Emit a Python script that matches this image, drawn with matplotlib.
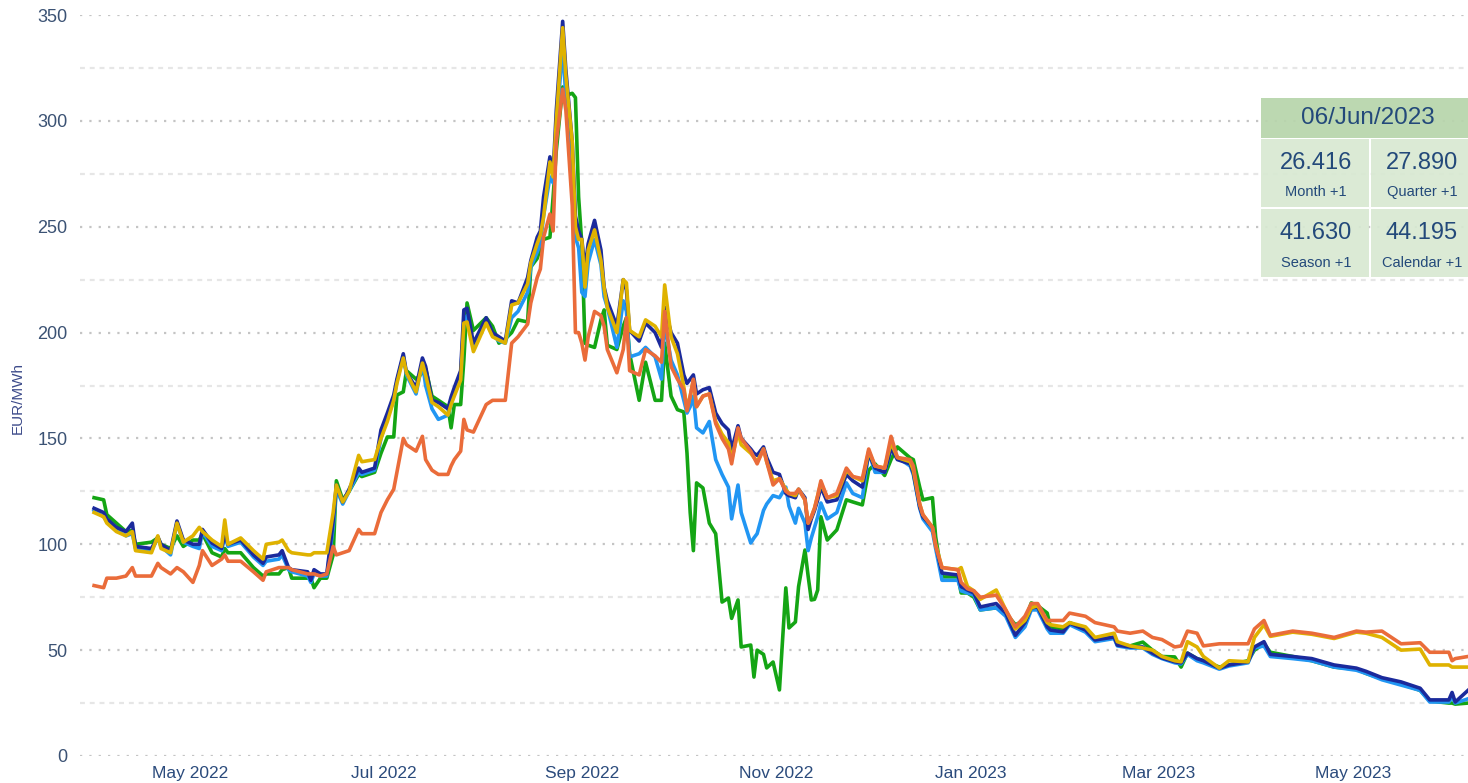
import numpy as np
import matplotlib
matplotlib.use("Agg")
import matplotlib.pyplot as plt
import matplotlib.dates as mdates
from matplotlib.patches import Rectangle

plt.rcParams['font.family'] = ['Liberation Sans', 'DejaVu Sans']

start_date = np.datetime64('2022-04-01')
days = [0,3,4,7,10,12,13,18,20,21,
        24,26,28,31,33,34,37,40,41,42,
        46,50,53,54,58,59,61,62,67,68,
        69,71,73,75,76,78,80,83,84,88,
        90,92,94,95,97,98,101,103,104,106,
        108,111,112,113,115,116,117,119,123,125,
        127,129,131,133,136,137,139,140,141,143,
        144,145,147,148,150,151,152,153,154,155,
        157,159,160,161,164,166,167,168,171,173,
        176,178,179,181,183,185,186,187,188,189,
        191,193,195,197,199,200,202,203,206,207,
        208,210,211,213,215,217,218,220,221,223,
        224,225,226,227,228,230,233,236,238,241,
        243,245,248,250,252,256,257,259,260,263,
        264,266,271,272,274,276,278,283,286,289,
        292,294,296,299,300,304,306,311,314,320,
        321,325,329,332,335,339,341,343,346,348,
        353,356,362,364,367,369,376,382,389,396,
        399,404,410,416,419,425,426,427,431]

navy = [117,115,112,108,106,110,99,98,103.5,100,
        97,111,102,100,100,107,100.6,98,105,100,
        102,95,91,94,95,97,89,88,87,83,
        88,86,86,111,128,120,126,136,134,136,
        154,162,170.5,178,190,181,174,188,184,168,
        167,164,169.6,174,182,210.7,211.5,195,207,200,
        198,196,215,214,226,234,245,248,264,283,
        275,305,347,324,290,255,248,244,230,242,
        253,239,221.5,215,203,225,220,201,196,204.5,
        200,193,212,200,195,180,176,178,180,171,
        173,174,162,157,154,144.6,156,150,145,143,
        142,146,141,134,133,124,123,122,126,122,
        107,112,116,121,127,120,121,133,130,127,
        143,136,134,145.5,140,138,133.7,117.6,113,108,
        100,86.4,85.5,80,78.4,77,70.4,72,67.5,57,
        63,70,70.4,61,59.5,58.6,62.8,59.5,54.8,56.2,
        52.4,51.5,51.5,48.6,46.3,44.5,44,48.6,46,45,
        41.5,43,44.5,51.5,54,48,47,46,43,41.5,
        40,37,35,32,26.5,26.5,30,25.5,31]

light_blue = [116,113,111,107,104,105,98,97,103,99,
              95,110,101,99,98,106,99,97,104,99,
              101,94,90,92,93,95,88,87,85,82,
              86,85,85,108,126,119,125,134,133,135,
              150,160,168,177,189,180,171,186,175,164,
              159,161,166,172,180,205,208,193,205,199,
              196,195,207,210,219,231,238,242,255,273.5,
              270.7,297,335,311,266,245,240,219,217,233,
              244,232,217,212,193,215,210,188.5,190,193,
              188.5,178,204.5,187,180,168,162,165,170,155,
              152.6,158,140,133,127,112,128,115,100.6,103,
              105,116,119,123,122,127,118,110,117,110,
              97,103,108,113,119.5,112,115,129,124,122,
              143.6,134,134,145,141,137,133,117,112,106,
              98,83,83,78,77,76,69,70,66,56,
              61,69,69,60,58,58,62,58.5,54,55.5,
              52,51,51,48,46,44,43.5,48,45,44,
              41,42.5,44,51,52,47,46,45,42,40.5,
              39,36,33.5,31,25.5,25.5,28,25,27]

yellow = [115,113,110,106,104,106,97,96,104,98,
          96,110,101,104,108,106,102,99,111.5,100,
          103,97,93,100,101,102,97,96,95,95,
          96,96,96,115,128,120,125,142,139,140,
          150,158,168,176,188,181,172,185.6,180,167,
          165,161,166,170,177.6,204.5,205,191,204.5,198,
          196.5,195,213,214,223,233,242,246,254.6,280.6,
          273.5,300,344,321,290,250,244,244,221.5,239,
          248.5,234,221,212,200,225,223.5,201,198,206,
          203,198,222.5,198,190,174.4,164,170,177.6,165,
          170,171,158,152,148,140,153,147,143,141,
          139,145,139,130,131,126,124,123,126,121,
          110,113,117,123,129,122,123,135,132,130,
          144,137,136,148,141,139,135,119,114,108,
          100,89,88,89,80,78,74,78.4,69,60,
          64,70,71,63,62,61,63,61,56,58,
          54,52,51,50,47,45,44.5,54,51.5,47,
          41.5,45,44.5,56,62,56.5,58.5,57.5,55.5,58.5,
          58,56,50,50.5,43,43,42,42,42]

green = [122,121,114,110,106,106.5,100,101,103,100,
         98,104,99,102,102,105,96,94,98,96,
         96,89,85,86,86,88,89,84,84,84,
         79.5,84,84,95,130,121,125,133,132,134,
         143,150.7,150.7,170.5,172,182,178,181,183,170,
         168,165,155,166,166,187,214,201,207,203,
         195,197,200,206,205,231,235,240,244,245,
         264,286,316,312,313,311,264,242,195,194,
         193,206,210.7,194,192,203,207,190,168,186,
         168,168,195,170,163.6,162.5,143,115,97,129,
         126.6,110,105,72.7,74.6,65,73.7,51.5,52.4,37.3,
         50,48,41.6,44.4,31.2,79.4,60.5,63.3,80,97.3,
         85,73.7,74,78.4,113,102,106.8,121,120,118.6,
         135,138,132.5,140,146,140.8,140,127,121,122,
         103.5,84.6,84.6,77,77,75,69,70,67.5,62,
         64,72.3,71,67.5,61,60,63,60,55,56,
         53,52,53.8,50,47,46.8,42,48.6,46,45,
         42,43,45,50,53,49,47,45,42,41,
         39,36.5,34,31,26,25,25,24.5,25]

orange = [80.5,79.5,84,84,85,89,85,85,91,89,
          86,89,87,82,90,97,90,93,95,92,
          92,87,83,87,89,89,89,88,86,86,
          86,85,86,99,95,96,97,107,105,105,
          115,121,126,134,150,147,144,151,140,135,
          133,133,137,140,144,159,154,153,166,168,
          168,168,195,198,204,214,226,230,245,256,
          248,290,315,305,260,200,200,195,187,198,
          210,208,203,192,181,192,207,182,180,192,
          189,186,210,184,178,173,163,170,178,165,
          170,171,157,150,145,138,155,150,144,141,
          138,145,139,128,131,125,124,124,126,121,
          110,113,117,123,130,122,124,136,132,131,
          145,137,136,151,141,140,137,119,114,108,
          99,89,88,82,79,78,75,76,69,61,
          66,72,72,64,64,64,67.5,66,63,61,
          59,58,59,56,55,51.5,52,59,58,52,
          53,53,53,60,64,57,59,58,56,59,
          58.5,59,53,53.5,49,49,45,46,47]

table_date = "06/Jun/2023"
table_values = ["26.416", "27.890", "41.630", "44.195"]
table_labels = ["Month +1", "Quarter +1", "Season +1", "Calendar +1"]

dates = start_date + np.array(days).astype('timedelta64[D]')

W, H = 1468, 783
fig = plt.figure(figsize=(W/100, H/100), dpi=100)
ax = fig.add_axes([80/W, 1 - 756/H, 1 - 80/W, (756 - 15)/H])

series = [
    (green, '#14a514'),
    (light_blue, '#2196f3'),
    (navy, '#1b2a9c'),
    (yellow, '#dfb200'),
    (orange, '#ea6c3a'),
]
for vals, col in series:
    ax.plot(dates, vals, color=col, lw=2.6, solid_joinstyle='round', zorder=3)

ax.set_ylim(0, 350)
ax.set_xlim(start_date - np.timedelta64(106, 'h'), start_date + np.timedelta64(431, 'D'))
ax.set_yticks(np.arange(0, 351, 50))
ax.set_yticks(np.arange(25, 350, 50), minor=True)
ax.yaxis.grid(True, which='major', color='#c4c4c4', linestyle=(0, (1, 3.2)), lw=1.6)
ax.yaxis.grid(True, which='minor', color='#e6e6e6', linestyle=(0, (2.2, 2.2)), lw=1.6)
ax.xaxis.grid(False)
ax.set_axisbelow(True)
for s in ax.spines.values():
    s.set_visible(False)

ax.xaxis.set_major_locator(mdates.MonthLocator(bymonth=[1, 3, 5, 7, 9, 11]))
ax.xaxis.set_major_formatter(mdates.DateFormatter('%b %Y'))
ax.tick_params(axis='both', which='both', length=0)
ax.tick_params(axis='y', pad=9, labelsize=13, labelcolor='#3b5274')
ax.tick_params(axis='x', pad=7, labelsize=12.5, labelcolor='#2b4b7c')

fig.text(18/W, 1 - 398/H, 'EUR/MWh', rotation=90, ha='center', va='center',
         fontsize=11, color='#3d4b8a')

# summary table
def fx(x):
    return x / W

def fy(y):
    return 1 - y / H

header_col = '#b7d5ab'
body_col = '#d8e9d2'
fig.add_artist(Rectangle((fx(1261), fy(138)), fx(1468) - fx(1261), fy(98) - fy(138),
                         transform=fig.transFigure, facecolor=header_col, edgecolor='none',
                         alpha=0.92, zorder=5))
cells = [(1261, 139, 1369, 207), (1371, 139, 1468, 207),
         (1261, 209, 1369, 277), (1371, 209, 1468, 277)]
for (x0, y0, x1, y1) in cells:
    fig.add_artist(Rectangle((fx(x0), fy(y1)), fx(x1) - fx(x0), fy(y0) - fy(y1),
                             transform=fig.transFigure, facecolor=body_col, edgecolor='none',
                             alpha=0.92, zorder=5))

txt_col = '#23497a'
fig.text(fx(1368), fy(118), table_date, ha='center', va='center', fontsize=17.5,
         color=txt_col, zorder=6)
centers = [(1316, 163, 192), (1422, 163, 192), (1316, 233, 263), (1422, 233, 263)]
for (cx, vy, ly), v, lab in zip(centers, table_values, table_labels):
    fig.text(fx(cx), fy(vy), v, ha='center', va='center', fontsize=17, color=txt_col, zorder=6)
    fig.text(fx(cx), fy(ly), lab, ha='center', va='center', fontsize=10.5, color=txt_col, zorder=6)

fig.savefig('out.png', dpi=100)
